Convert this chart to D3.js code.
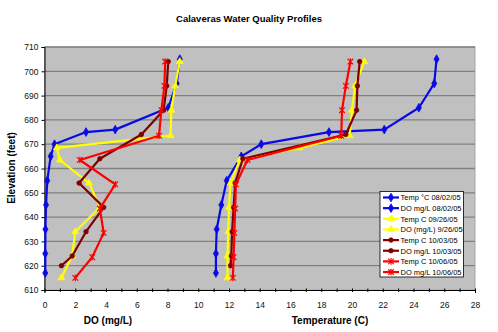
<!DOCTYPE html>
<html>
<head>
<meta charset="utf-8">
<script src="https://cdn.jsdelivr.net/npm/d3@7"></script>
<style>
  body { margin: 0; background: #fff; }
  svg { display: block; font-family: Arial, "Liberation Sans", sans-serif; }
</style>
</head>
<body>
<div class="chart"></div>
<script>
// sampling depths (elevation, feet) for each survey date
const elev0802 = [705, 695, 685, 676, 675, 670, 665, 655, 645, 635, 625, 617];
const elev0926 = [704, 694, 684, 673.5, 668.5, 663.5, 654, 644, 634, 624, 615];
const elev1003 = [704, 694, 684, 674, 664, 654, 644, 634, 624, 620];
const elev1006 = [704, 694, 684, 673.5, 663.5, 653.5, 643.5, 633.5, 623.5, 615];

// temperature (C)
const temp0802 = [25.5, 25.35, 24.35, 22.1, 18.5, 14.1, 12.8, 11.85, 11.5, 11.2, 11.15, 11.15];
const temp0926 = [20.8, 20.2, 20.0, 19.85, 16.6, 12.7, 12.1, 12.0, 11.95, 11.9, 11.9];
const temp1003 = [20.5, 20.35, 20.3, 19.6, 12.9, 12.4, 12.3, 12.2, 12.15, 12.1];
const temp1006 = [19.9, 19.6, 19.35, 19.3, 13.2, 12.45, 12.4, 12.35, 12.3, 12.25];

// dissolved oxygen (mg/L)
const do0802 = [8.8, 8.6, 8.05, 4.6, 2.7, 0.65, 0.4, 0.18, 0.1, 0.06, 0.05, 0.05];
const do0926 = [8.8, 8.5, 8.25, 8.2, 0.8, 1.0, 2.9, 3.6, 2.0, 1.8, 1.1];
const do1003 = [8.05, 7.95, 7.75, 6.3, 3.6, 2.25, 3.85, 2.7, 1.8, 1.1];
const do1006 = [7.85, 7.8, 7.6, 7.45, 2.3, 4.6, 3.6, 3.85, 3.1, 2.0];

const seriesNames = [
  'Temp °C 08/02/05', 'DO mg/L 08/02/05',
  'Temp C 09/26/05', 'DO (mg/L) 9/26/05',
  'Temp C 10/03/05', 'DO mg/L 10/03/05',
  'Temp C 10/06/05', 'DO mg/L 10/06/05'
];
const xTicks = d3.range(0, 29, 2);
const yTicks = d3.range(610, 711, 10);

const width = 498, height = 332;
const plot = {left: 44.5, right: 475, top: 47, bottom: 290};

const colors = ['#0a0ae6', '#0a0ae6', '#ffff00', '#ffff00', '#800000', '#800000', '#ff0000', '#ff0000'];
const shapes = ['diamond', 'diamond', 'triangle', 'triangle', 'circle', 'circle', 'star', 'star'];

const series = [
  [temp0802, elev0802], [do0802, elev0802],
  [temp0926, elev0926], [do0926, elev0926],
  [temp1003, elev1003], [do1003, elev1003],
  [temp1006, elev1006], [do1006, elev1006]
].map(([xs, ys], i) => ({
  name: seriesNames[i],
  color: colors[i],
  shape: shapes[i],
  values: xs.map((v, j) => ({x: v, y: ys[j]}))
}));

const x = d3.scaleLinear().domain([0, 28]).range([plot.left, plot.right]);
const y = d3.scaleLinear().domain([610, 710]).range([plot.bottom, plot.top]);

const svg = d3.select('.chart').append('svg')
  .attr('width', width)
  .attr('height', height);

// plot area
svg.append('rect')
  .attr('x', plot.left).attr('y', plot.top)
  .attr('width', plot.right - plot.left).attr('height', plot.bottom - plot.top)
  .attr('fill', '#c0c0c0')
  .attr('stroke', '#a6a6a6').attr('stroke-width', 1);

svg.append('g').selectAll('line')
  .data(yTicks.filter(d => d > 610))
  .enter().append('line')
  .attr('x1', plot.left).attr('x2', plot.right)
  .attr('y1', d => y(d)).attr('y2', d => y(d))
  .attr('stroke', '#808080').attr('stroke-width', 1.3);

// axes
const yAxis = svg.append('g')
  .attr('transform', 'translate(' + plot.left + ',0)')
  .call(d3.axisLeft(y).tickValues(yTicks).tickSize(3).tickPadding(3));
const xAxis = svg.append('g')
  .attr('transform', 'translate(0,' + plot.bottom + ')')
  .call(d3.axisBottom(x).tickValues(d3.range(0, 29, 1)).tickSize(3).tickPadding(9)
    .tickFormat(d => xTicks.includes(d) ? d : ''));
[xAxis, yAxis].forEach(a => {
  a.select('.domain').attr('stroke', '#000').attr('stroke-width', 1);
  a.selectAll('.tick line').attr('stroke', '#000');
  a.selectAll('text').attr('fill', '#111').style('font-size', '8.5px')
    .style('font-family', 'Arial, "Liberation Sans", sans-serif');
});
xAxis.selectAll('.tick line').attr('y1', -1.5).attr('y2', 2);

// markers
const symbolPath = shape => {
  if (shape === 'star') {
    const r = 2.8;
    return 'M' + (-r) + ',' + (-r) + 'L' + r + ',' + r +
      'M' + (-r) + ',' + r + 'L' + r + ',' + (-r) +
      'M0,' + (-r - 0.5) + 'L0,' + (r + 0.5);
  }
  const type = {diamond: d3.symbolDiamond, triangle: d3.symbolTriangle, circle: d3.symbolCircle}[shape];
  const size = {diamond: 22, triangle: 20, circle: 16}[shape];
  return d3.symbol().type(type).size(size)();
};

const line = d3.line().x(d => x(d.x)).y(d => y(d.y));

const sg = svg.append('g').selectAll('g')
  .data(series)
  .enter().append('g');

sg.append('path')
  .attr('d', d => line(d.values))
  .attr('fill', 'none')
  .attr('stroke', d => d.color)
  .attr('stroke-width', 2.2)
  .attr('stroke-linejoin', 'round');

sg.each(function(s) {
  d3.select(this).selectAll('.m')
    .data(s.values)
    .enter().append('path')
    .attr('class', 'm')
    .attr('transform', d => 'translate(' + x(d.x) + ',' + y(d.y) + ')')
    .attr('d', symbolPath(s.shape))
    .attr('fill', s.shape === 'star' ? 'none' : s.color)
    .attr('stroke', s.color)
    .attr('stroke-width', s.shape === 'star' ? 1.2 : 0.8);
});

// legend
const legendX = 380, legendY = 191.5, rowH = 10.65;
svg.append('rect')
  .attr('x', legendX).attr('y', legendY)
  .attr('width', 83.5).attr('height', 85.5)
  .attr('fill', '#fff').attr('stroke', '#000').attr('stroke-width', 0.8);

const legend = svg.selectAll('.legend')
  .data(series)
  .enter().append('g')
  .attr('class', 'legend')
  .attr('transform', (d, i) => 'translate(' + legendX + ',' + (legendY + 6 + i * rowH) + ')');

legend.append('line')
  .attr('x1', 3).attr('x2', 19)
  .attr('stroke', d => d.color).attr('stroke-width', 2.2);
legend.append('path')
  .attr('transform', 'translate(11,0)')
  .attr('d', d => symbolPath(d.shape))
  .attr('fill', d => d.shape === 'star' ? 'none' : d.color)
  .attr('stroke', d => d.color)
  .attr('stroke-width', d => d.shape === 'star' ? 1.2 : 0.8);
legend.append('text')
  .attr('x', 20.5).attr('y', 2.8)
  .style('font-size', '7.5px')
  .text(d => d.name);

// titles
svg.append('text')
  .attr('x', 249).attr('y', 21.5)
  .attr('text-anchor', 'middle')
  .style('font-size', '9.5px').style('font-weight', 'bold')
  .text('Calaveras Water Quality Profiles');
svg.append('text')
  .attr('x', 108).attr('y', 323.5)
  .attr('text-anchor', 'middle')
  .style('font-size', '10px').style('font-weight', 'bold')
  .text('DO (mg/L)');
svg.append('text')
  .attr('x', 330).attr('y', 323.5)
  .attr('text-anchor', 'middle')
  .style('font-size', '10px').style('font-weight', 'bold')
  .text('Temperature (C)');
svg.append('text')
  .attr('transform', 'translate(15,168) rotate(-90)')
  .attr('text-anchor', 'middle')
  .style('font-size', '10px').style('font-weight', 'bold')
  .text('Elevation (feet)');
</script>
</body>
</html>
